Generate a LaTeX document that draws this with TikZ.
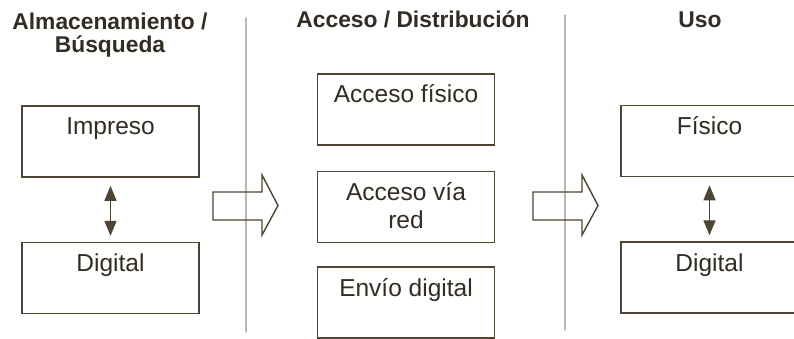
\documentclass[tikz,border=0pt]{standalone}
\usepackage{fontspec}
\setmainfont{Liberation Sans}
\usepackage{pgf,tikz}
\usepackage{tkz-euclide}
\usepackage{xcolor}
\usetikzlibrary{arrows, arrows.meta, positioning}

\definecolor{ink}{RGB}{77,68,52}
\definecolor{inktext}{RGB}{50,44,36}
\definecolor{sepgray}{RGB}{190,183,170}

\tikzset{
    box/.style={draw=ink, line width=1.6pt, minimum width=177pt, inner sep=0pt,
        text height=29pt, text depth=42pt, align=center, text=inktext,
        font=\fontsize{24.5}{28}\selectfont},
    head/.style={align=center, inner sep=0pt, text=inktext,
        font=\fontsize{22.8}{23.5}\selectfont\bfseries},
    blockarrow/.style={draw=ink, line width=1.4pt, line join=miter},
    dblarrow/.style={draw=ink, line width=1.3pt,
        {Triangle[width=12pt,length=15pt]}-{Triangle[width=12pt,length=15pt]},
        shorten <=8pt, shorten >=6pt}
}

\begin{document}
\begin{tikzpicture}[x=1pt, y=-1pt]
        \useasboundingbox[fill=white] (0,0) rectangle (794,339);

        \tkzDefPoint(246,18){S_1}
        \tkzDefPoint(246,332){T_1}
        \tkzDefPoint(565,15){S_2}
        \tkzDefPoint(565,330){T_2}

        \tkzDrawSegments[draw=sepgray, line width=1.3pt](S_1,T_1 S_2,T_2)

        % column headers (base = last line)
        \node[head, anchor=base] (almacen) at (110,53) {Almacenamiento /\\B\'usqueda};
        \node[head, anchor=base] (acceso) at (413,28) {Acceso / Distribuci\'on};
        \node[head, anchor=base] (uso) at (700,28) {Uso};

        % boxes
        \node[box] (impreso) at (110.5,141.5) {Impreso};
        \node[box, below=64pt of impreso] (digitalA) {Digital};

        \node[box] (fisicoAcc) at (406,109.5) {Acceso f\'isico};
        \node[box, below=25pt of fisicoAcc, text height=57pt, text depth=14pt] (red) {Acceso v\'ia\\red};
        \node[box, below=23pt of red] (envio) {Env\'io digital};

        \node[box] (fisico) at (709.5,141) {F\'isico};
        \node[box, below=64pt of fisico] (digitalB) {Digital};

        \draw[dblarrow] (impreso) -- (digitalA);
        \draw[dblarrow] (fisico) -- (digitalB);

        % block arrows
        \foreach \ax in {213,533}
            \draw[blockarrow] (\ax,192) -- ++(49,0) -- ++(0,-17) -- ++(16,30.5)
                -- ++(-16,29.5) -- ++(0,-15) -- ++(-49,0) -- cycle;
    \end{tikzpicture}
\end{document}
